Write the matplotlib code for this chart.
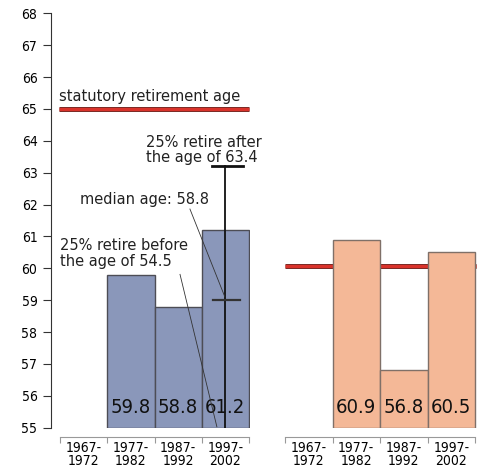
import matplotlib
matplotlib.use("Agg")
import matplotlib.pyplot as plt
import matplotlib.patheffects as pe

# ---- data ----
periods = ["1967-\n1972", "1977-\n1982", "1987-\n1992", "1997-\n2002"]
left_values = [None, 59.8, 58.8, 61.2]
right_values = [None, 60.9, 56.8, 60.5]
left_labels = ["", "59.8", "58.8", "61.2"]
right_labels = ["", "60.9", "56.8", "60.5"]
left_statutory = 65.0
right_statutory = 60.07
whisker_low = 55.0
whisker_high = 63.2
whisker_median = 59.0
yticks = list(range(55, 69))

NARROW = dict(family="DejaVu Sans", stretch="condensed")
SANS = ["DejaVu Sans"]

BLUE = "#8a97ba"
ORANGE = "#f4b897"
RED = "#d9332b"

W, H = 490, 469
fig = plt.figure(figsize=(W / 100, H / 100), dpi=100)

ybot_px, ytop_px = 427.7, 13.3
ax_bottom = (H - ybot_px) / H
ax_height = (ybot_px - ytop_px) / H

unit1 = 47.25
x0_1 = 60.0
ax1_left_px = 51.0
xlim1 = ((ax1_left_px - x0_1) / unit1, 4.02)
ax1 = fig.add_axes([ax1_left_px / W, ax_bottom, (xlim1[1] - xlim1[0]) * unit1 / W, ax_height])

unit2 = 47.5
ax2_left_px = 285.0
xlim2 = (0.0, 4.05)
ax2 = fig.add_axes([ax2_left_px / W, ax_bottom, (xlim2[1] - xlim2[0]) * unit2 / W, ax_height])


def style_axis(ax, xlim, show_left):
    ax.set_xlim(*xlim)
    ax.set_ylim(55, 68)
    ax.spines["top"].set_visible(False)
    ax.spines["right"].set_visible(False)
    ax.spines["left"].set_visible(show_left)
    ax.spines["left"].set_linewidth(0.8)
    ax.spines["left"].set_color("#333333")
    ax.spines["bottom"].set_position(("outward", 7))
    ax.spines["bottom"].set_bounds(0, 4)
    ax.spines["bottom"].set_color("#999999")
    ax.spines["bottom"].set_linewidth(0.8)
    ax.set_xticks([0, 1, 2, 3, 4])
    ax.set_xticklabels([])
    ax.tick_params(axis="x", which="major", direction="out", length=4.5,
                   color="#999999", width=0.8)
    ax.set_xticks([0.5, 1.5, 2.5, 3.5], minor=True)
    ax.set_xticklabels(periods, minor=True, fontsize=10, linespacing=0.88, **NARROW)
    ax.tick_params(axis="x", which="minor", length=0, pad=2.5)
    if show_left:
        ax.set_yticks(yticks)
        ax.set_yticklabels([str(t) for t in yticks], fontsize=10, **NARROW)
        ax.tick_params(axis="y", direction="out", length=5.8, width=0.8,
                       color="#333333", pad=4)
    else:
        ax.set_yticks([])


style_axis(ax1, xlim1, True)
style_axis(ax2, xlim2, False)

red_effects = [pe.Stroke(linewidth=3.6, foreground="#6b2b27"), pe.Normal()]

# left panel
ax1.plot([-0.02, 4.0], [left_statutory] * 2, color=RED, lw=2.4,
         solid_capstyle="butt", path_effects=red_effects, zorder=2)
for i, v in enumerate(left_values):
    if v is None:
        continue
    ax1.bar(i + 0.5, v - 55, bottom=55, width=1.0, color=BLUE,
            edgecolor="#4d4d55", linewidth=1.0, zorder=3)
    ax1.text(i + 0.5, 55.45, left_labels[i], ha="center", va="baseline",
             fontsize=14.5, color="#111111", zorder=6, **NARROW)

# whisker (box-plot style) in last bar
ax1.plot([3.5, 3.5], [whisker_low, whisker_high], color="#111111", lw=1.3, zorder=5)
ax1.plot([3.22, 3.87], [whisker_high, whisker_high], color="#111111", lw=2.0, zorder=5)
ax1.plot([3.24, 3.81], [whisker_median, whisker_median], color="#333333", lw=1.6, zorder=5)

# annotations
ax1.text(-0.02, 65.24, "statutory retirement age", family=SANS, fontsize=10.5,
         ha="left", va="baseline", color="#222222")
ax1.text(1.82, 63.81, "25% retire after", family=SANS, fontsize=10.5,
         ha="left", va="baseline", color="#222222")
ax1.text(1.82, 63.34, "the age of 63.4", family=SANS, fontsize=10.5,
         ha="left", va="baseline", color="#222222")
ax1.text(0.42, 62.01, "median age: 58.8", family=SANS, fontsize=10.5,
         ha="left", va="baseline", color="#222222")
ax1.text(0.0, 60.57, "25% retire before", family=SANS, fontsize=10.5,
         ha="left", va="baseline", color="#222222")
ax1.text(0.0, 60.07, "the age of 54.5", family=SANS, fontsize=10.5,
         ha="left", va="baseline", color="#222222")
ax1.plot([2.75, 3.49], [61.86, 59.10], color="#333333", lw=0.6, zorder=6)
ax1.plot([2.54, 3.32], [59.81, 55.03], color="#333333", lw=0.6, zorder=6)

# right panel
ax2.plot([0.0, 4.03], [right_statutory] * 2, color=RED, lw=2.4,
         solid_capstyle="butt", path_effects=red_effects, zorder=2)
for i, v in enumerate(right_values):
    if v is None:
        continue
    ax2.bar(i + 0.5, v - 55, bottom=55, width=1.0, color=ORANGE,
            edgecolor="#7f7068", linewidth=1.0, zorder=3)
    ax2.text(i + 0.5, 55.45, right_labels[i], ha="center", va="baseline",
             fontsize=14.5, color="#111111", zorder=6, **NARROW)

fig.savefig("out.png", dpi=100)
